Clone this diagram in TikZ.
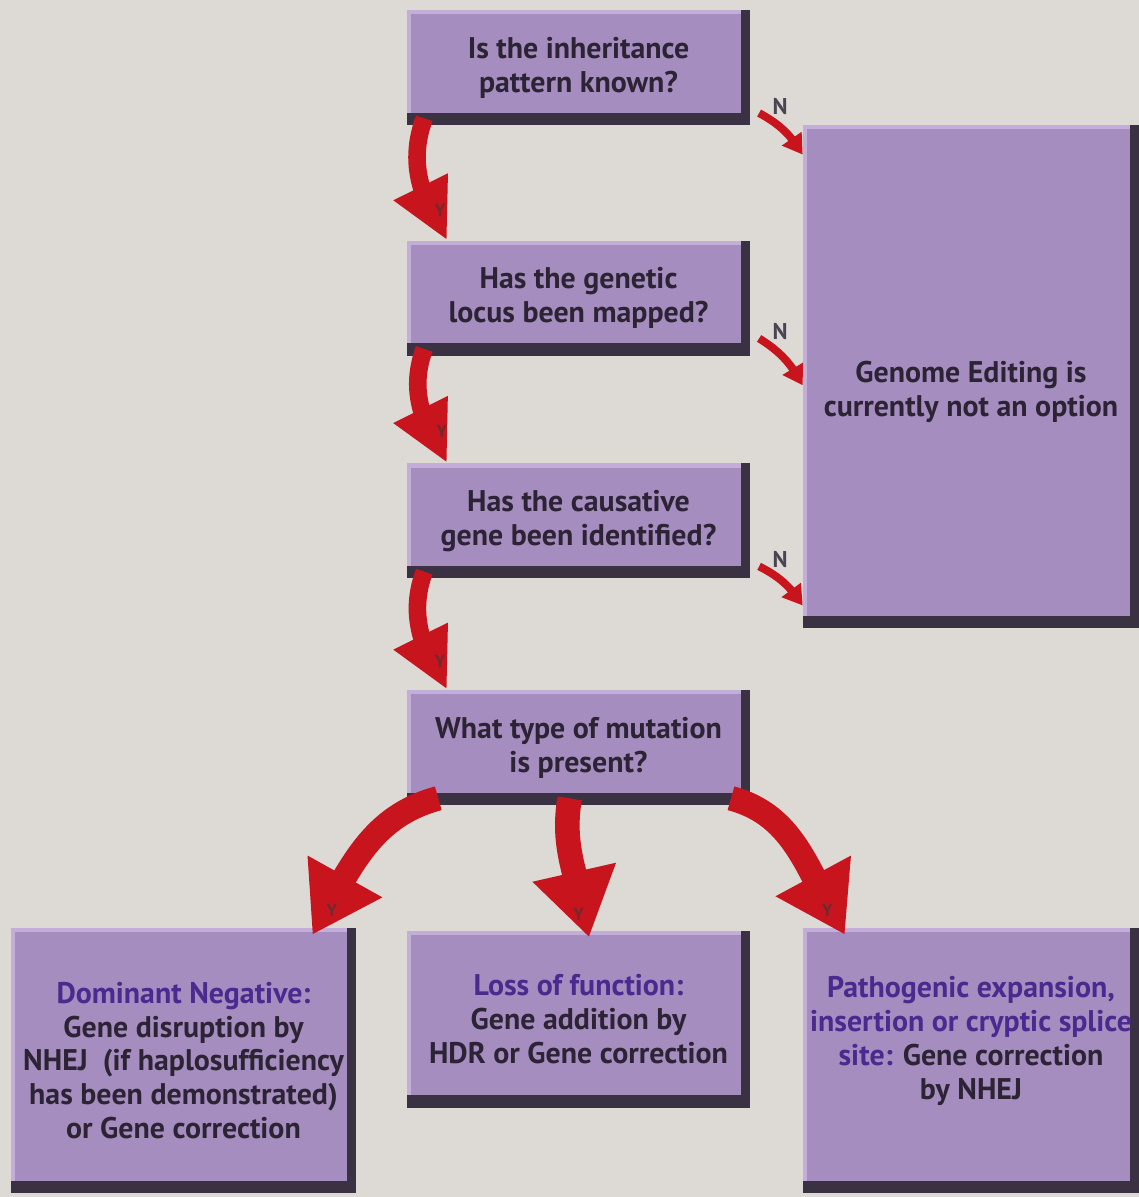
\documentclass[tikz,border=0pt]{standalone}
\usepackage{fontspec}
\setmainfont{PT Sans}
\usetikzlibrary{positioning}
\usetikzlibrary{arrows.meta}
\usetikzlibrary{bending}
\definecolor{bgcol}{HTML}{DDDAD5}
\definecolor{boxface}{HTML}{A68DC0}
\definecolor{boxlight}{HTML}{C3AEDA}
\definecolor{boxdark}{HTML}{3A3142}
\definecolor{txtdark}{HTML}{2C2334}
\definecolor{txtpurple}{HTML}{4A2A8E}
\definecolor{arrowred}{HTML}{C8151D}
\definecolor{ymark}{HTML}{6E2A30}

\begin{document}
\begin{tikzpicture}[x=0.02cm,y=-0.02cm,font=\bfseries\fontsize{17}{19.3}\selectfont,
    box/.style={fill=boxdark,inner sep=0pt,align=center,text=txtdark,
      path picture={
        \fill[boxface] (path picture bounding box.north west) rectangle ([xshift=-5pt,yshift=7pt]path picture bounding box.south east);
        \fill[boxlight] (path picture bounding box.north west) rectangle ([xshift=-5pt,yshift=-2.5pt]path picture bounding box.north east);
        \fill[boxlight] (path picture bounding box.north west) rectangle ([xshift=2pt,yshift=7pt]path picture bounding box.south west);
      }},
    question/.style={box,minimum width=6.86cm,minimum height=2.3cm},
    answer/.style={box,minimum width=6.86cm,minimum height=3.54cm},
    tallbox/.style={box,minimum width=6.9cm,minimum height=5.3cm},
    yarrow/.style={draw=arrowred,line width=10pt,-{Triangle[width=32pt,length=34pt]}},
    bigarrow/.style={draw=arrowred,line width=14pt,-{Triangle[width=46pt,length=38pt]}},
    narrow/.style={draw=arrowred,line width=4.5pt,-{Triangle[width=13pt,length=11pt]}},
    nlabel/.style={text=txtdark!85,font=\bfseries\fontsize{13}{14}\selectfont},
    ymarker/.style={text=ymark,font=\bfseries\fontsize{10}{11}\selectfont}]
    \fill[bgcol] (0,0) rectangle (1139,1197);
    \useasboundingbox (0,0) rectangle (1139,1197);

    % questions
    \node[question] (q1) at (578.5,67.5) {Is the inheritance\\pattern known?};
    \node[question] (q2) [below=2.3cm of q1]  {Has the genetic\\locus been mapped?};
    \node[question] (q3) [below=2.14cm of q2] {Has the causative\\gene been identified?};
    \node[question] (q4) [below=2.22cm of q3] {What type of mutation\\is present?};
    \node[box,minimum width=6.72cm,minimum height=10.06cm,
      label={[align=center,text=txtdark,yshift=-9pt]center:{Genome Editing is\\currently not an option}}] (noopt) at (971,376.5) {};

    % outcomes
    \node[answer] (b2) [below=2.5cm of q4] {{\color{txtpurple}Loss of function:}\\Gene addition by\\HDR or Gene correction};
    \node[tallbox] (b1) at (183.5,1060.5) {{\color{txtpurple}Dominant Negative:}\\Gene disruption by\\NHEJ~ (if haplosufficiency\\has been demonstrated)\\or Gene correction};
    \node[tallbox,minimum width=6.72cm,
      label={[align=center,text=txtdark,yshift=11pt]center:{{\color{txtpurple}Pathogenic expansion,}\\{\color{txtpurple}insertion or cryptic splice}\\{\color{txtpurple}site:} Gene correction\\by NHEJ}}] (b3) at (971,1060.5) {};

    % yes arrows
    \draw[yarrow] ([xshift=10pt,yshift=4pt]q1.south west) to[out=-110,in=122] ([xshift=23pt]q2.north west);
    \draw[yarrow] ([xshift=10pt,yshift=4pt]q2.south west) to[out=-110,in=122] ([xshift=23pt]q3.north west);
    \draw[yarrow] ([xshift=10pt,yshift=4pt]q3.south west) to[out=-110,in=122] ([xshift=23pt]q4.north west);
    \draw[bigarrow] ([xshift=18pt,yshift=4pt]q4.south west) to[out=195,in=60] ([xshift=-25pt,yshift=-4pt]b1.north east);
    \draw[bigarrow] ([xshift=-5pt,yshift=4pt]q4.south) to[out=-100,in=98] ([xshift=6pt,yshift=-4pt]b2.north);
    \draw[bigarrow] ([xshift=-11pt,yshift=4pt]q4.south east) to[out=-15,in=122] ([xshift=24pt,yshift=-4pt]b3.north west);
    \node[ymarker] (y1) at ([xshift=19pt,yshift=17pt]q2.north west) {Y};
    \node[ymarker] (y2) at ([xshift=20pt,yshift=18pt]q3.north west) {Y};
    \node[ymarker] (y3) at ([xshift=19pt,yshift=16pt]q4.north west) {Y};
    \node[ymarker] (y4) at ([xshift=-14pt,yshift=10pt]b1.north east) {Y};
    \node[ymarker] (y5) at ([yshift=9pt]b2.north) {Y};
    \node[ymarker] (y6) at ([xshift=14pt,yshift=10pt]b3.north west) {Y};

    % no arrows
    \draw[narrow] ([xshift=5pt,yshift=7pt]q1.south east) to[bend left=15] node[nlabel,pos=0,xshift=12pt,yshift=4pt] (n1) {N} ([yshift=-17pt]noopt.north west);
    \draw[narrow] ([xshift=5pt,yshift=10pt]q2.south east) to[bend left=15] node[nlabel,pos=0,xshift=12pt,yshift=4pt] (n2) {N} ([yshift=-5pt]noopt.west);
    \draw[narrow] ([xshift=5pt,yshift=7pt]q3.south east) to[bend left=15] node[nlabel,pos=0,xshift=12pt,yshift=4pt] (n3) {N} ([yshift=13pt]noopt.south west);
\end{tikzpicture}
\end{document}
